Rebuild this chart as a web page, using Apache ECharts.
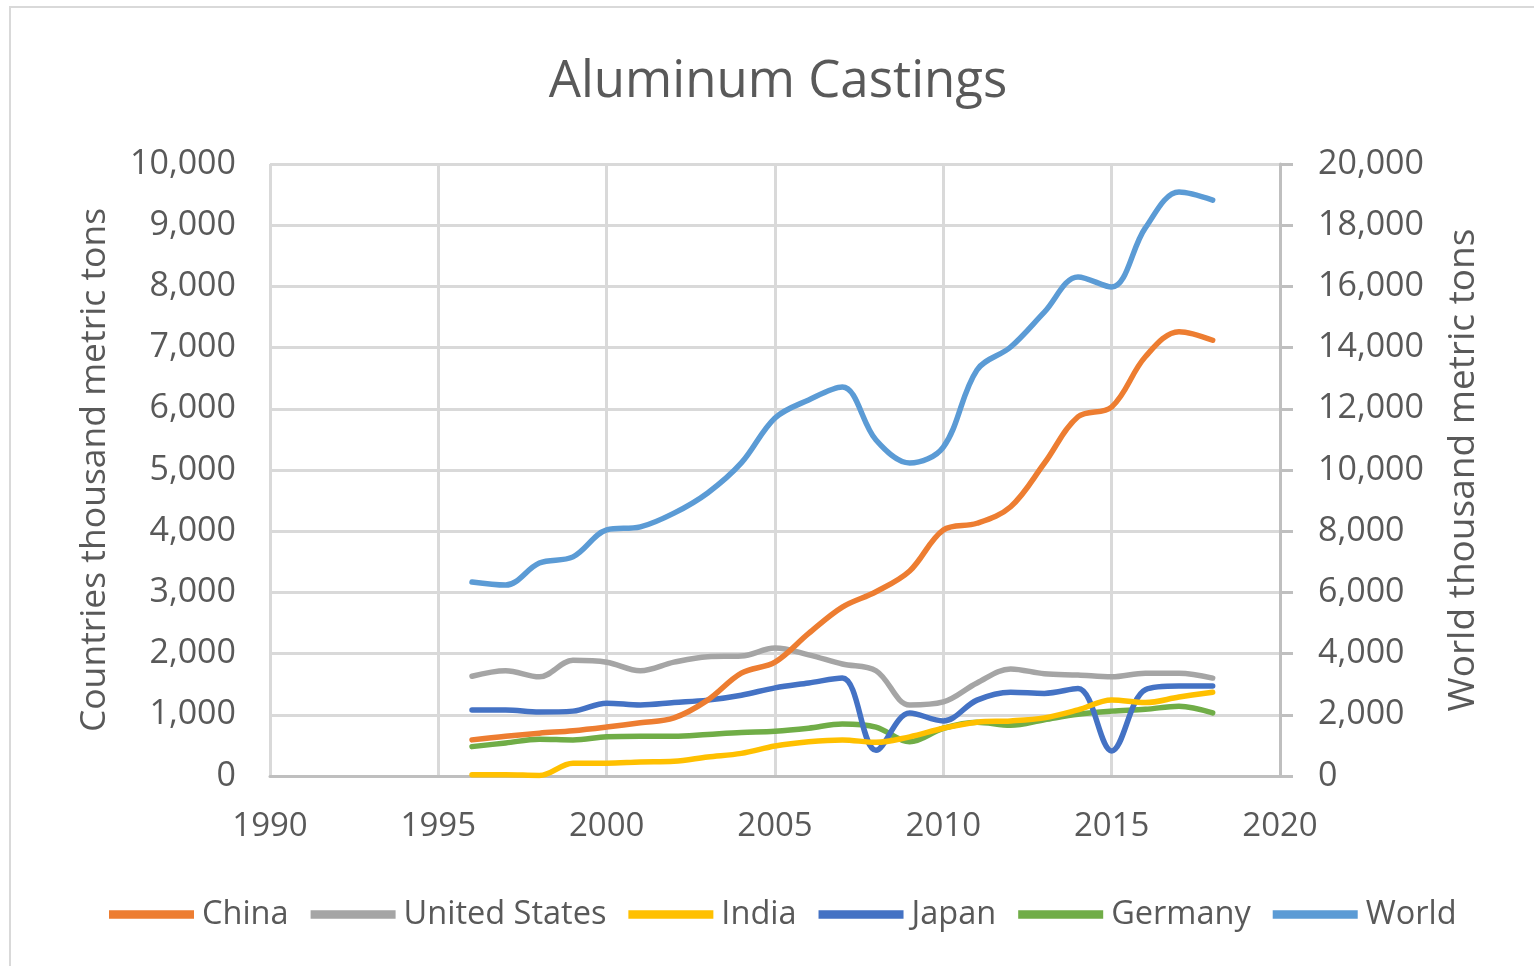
<!DOCTYPE html>
<html>
<head>
<meta charset="utf-8">
<script src="https://cdn.jsdelivr.net/npm/echarts@6/dist/echarts.min.js"></script>
<style>
html,body{margin:0;padding:0;background:#fff;}
#c{width:1534px;height:966px;}
</style>
</head>
<body>
<div id="c"></div>
<script>
const years = [1996,1997,1998,1999,2000,2001,2002,2003,2004,2005,2006,2007,2008,2009,2010,2011,2012,2013,2014,2015,2016,2017,2018];
const china = [590,650,700,740,800,870,950,1240,1680,1860,2330,2760,3010,3350,4020,4130,4400,5110,5870,6030,6850,7260,7120];
const unitedStates = [1630,1720,1620,1890,1860,1720,1860,1950,1960,2090,1980,1830,1720,1160,1210,1520,1750,1670,1650,1620,1680,1680,1600];
const india = [20,20,10,210,210,230,240,310,370,490,560,590,550,640,780,880,900,950,1080,1240,1200,1290,1370];
const japan = [1080,1080,1045,1060,1190,1160,1200,1240,1320,1440,1520,1600,420,1030,900,1240,1370,1350,1430,410,1410,1470,1470];
const germany = [480,540,600,590,640,650,650,680,710,730,780,850,800,560,780,880,830,920,1010,1060,1090,1140,1030];
const world = [6340,6240,6960,7160,8040,8140,8590,9250,10230,11700,12290,12710,10980,10230,10750,13270,14020,15160,16310,15980,17910,19085,18820];
const seriesNames = ['China','United States','India','Japan','Germany','World'];
const seriesColors = ['#ED7D31','#A5A5A5','#FFC000','#4472C4','#70AD47','#5B9BD5'];

const FONT = "'Open Sans', 'Noto Sans', sans-serif";
const TXT = '#595959';
const pairs = arr => years.map((y,i)=>[y,arr[i]]);
const fmt = v => v.toLocaleString('en-US');

const dataSets = [china, unitedStates, india, japan, germany, world];
const series = dataSets.map((d,i)=>({
  name: seriesNames[i],
  type: 'line',
  data: pairs(d),
  yAxisIndex: i === 5 ? 1 : 0,
  smooth: 0.35,
  symbol: 'none',
  lineStyle: {color: seriesColors[i], width: 5.5, cap: 'round', join: 'round'},
  itemStyle: {color: seriesColors[i]},
  z: 10 - i
}));

const chart = echarts.init(document.getElementById('c'), null, {renderer:'canvas'});
chart.setOption({
  animation: false,
  backgroundColor: '#fff',
  graphic: [{
    type: 'rect', silent: true, z: -10,
    shape: {x: 10, y: 7, width: 1540, height: 980},
    style: {fill: 'none', stroke: '#d9d9d9', lineWidth: 2}
  }],
  title: {
    text: 'Aluminum Castings',
    left: 773, top: 52, textAlign: 'center',
    textStyle: {fontFamily: FONT, fontSize: 51, fontWeight: 'normal', color: TXT}
  },
  legend: {
    bottom: 30, left: 104,
    itemWidth: 85, itemHeight: 10, itemGap: 22,
    icon: 'path://M0,0 L100,0 L100,10 L0,10 Z',
    textStyle: {fontFamily: FONT, fontSize: 32.5, color: TXT, padding: [0,0,0,3]},
    data: seriesNames
  },
  grid: {left: 270, right: 254, top: 164, bottom: 190, containLabel: false},
  xAxis: {
    type: 'value', min: 1990, max: 2020, interval: 5,
    axisLine: {show: true, lineStyle: {color: '#bfbfbf', width: 3}},
    axisTick: {show: false},
    axisLabel: {fontFamily: FONT, fontSize: 33, color: TXT, margin: 34, formatter: v => String(v)},
    splitLine: {show: true, lineStyle: {color: '#d9d9d9', width: 3}}
  },
  yAxis: [{
    type: 'value', min: 0, max: 10000, interval: 1000,
    name: 'Countries thousand metric tons',
    nameLocation: 'middle', nameRotate: 90, nameGap: 157,
    nameTextStyle: {fontFamily: FONT, fontSize: 35.5, color: TXT},
    axisLine: {show: false}, axisTick: {show: false},
    axisLabel: {fontFamily: FONT, fontSize: 34, color: TXT, margin: 34, formatter: fmt},
    splitLine: {show: true, lineStyle: {color: '#d9d9d9', width: 3}}
  },{
    type: 'value', min: 0, max: 20000, interval: 2000,
    position: 'right',
    name: 'World thousand metric tons',
    nameLocation: 'middle', nameRotate: 90, nameGap: 165,
    nameTextStyle: {fontFamily: FONT, fontSize: 37, color: TXT},
    axisLine: {show: true, lineStyle: {color: '#bfbfbf', width: 3}},
    axisTick: {show: true, length: 13, lineStyle: {color: '#bfbfbf', width: 3}},
    axisLabel: {fontFamily: FONT, fontSize: 34, color: TXT, margin: 38, formatter: fmt},
    splitLine: {show: false}
  }],
  series: series
});
</script>
</body>
</html>
